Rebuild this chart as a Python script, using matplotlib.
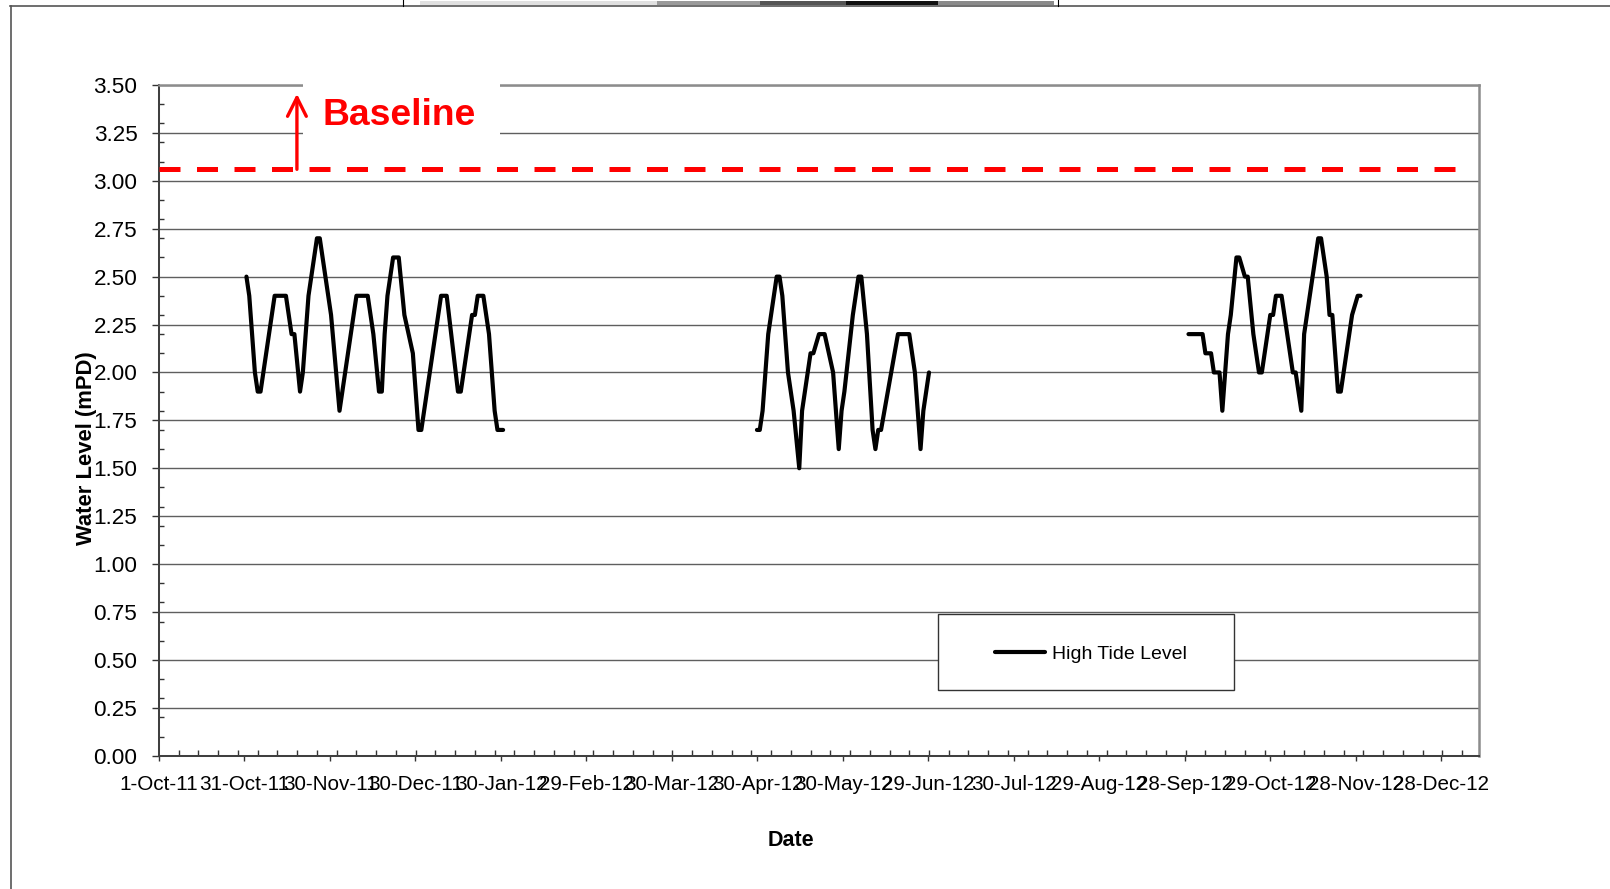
import numpy as np
import matplotlib
matplotlib.use("Agg")
import matplotlib.pyplot as plt
import matplotlib.dates as mdates
from matplotlib.patches import Rectangle
from matplotlib.lines import Line2D

plt.rcParams['font.family'] = ['Liberation Sans', 'DejaVu Sans']

# ---- axis set-up -------------------------------------------------------
axis_start = np.datetime64('2011-10-01')
axis_span_days = 468
major_step_days = 30.31
minor_step_days = 7
x_tick_labels = ['1-Oct-11', '31-Oct-11', '30-Nov-11', '30-Dec-11', '30-Jan-12',
                 '29-Feb-12', '30-Mar-12', '30-Apr-12', '30-May-12', '29-Jun-12',
                 '30-Jul-12', '29-Aug-12', '28-Sep-12', '29-Oct-12', '28-Nov-12',
                 '28-Dec-12']
y_ticks = [0.00, 0.25, 0.50, 0.75, 1.00, 1.25, 1.50, 1.75, 2.00, 2.25, 2.50,
           2.75, 3.00, 3.25, 3.50]

# ---- baseline ----------------------------------------------------------
baseline_level = 3.06
baseline_end = np.datetime64('2013-01-03')

# ---- high tide level, three monitoring periods -------------------------
period1_dates = ['2011-11-01', '2011-11-02', '2011-11-04', '2011-11-05', '2011-11-06',
                 '2011-11-11', '2011-11-15', '2011-11-17', '2011-11-18', '2011-11-20',
                 '2011-11-21', '2011-11-23', '2011-11-26', '2011-11-27', '2011-12-01',
                 '2011-12-04', '2011-12-10', '2011-12-14', '2011-12-16', '2011-12-18',
                 '2011-12-19', '2011-12-20', '2011-12-21', '2011-12-23', '2011-12-25',
                 '2011-12-27', '2011-12-30', '2012-01-01', '2012-01-02', '2012-01-09',
                 '2012-01-11', '2012-01-15', '2012-01-16', '2012-01-20', '2012-01-21',
                 '2012-01-22', '2012-01-24', '2012-01-26', '2012-01-28', '2012-01-29',
                 '2012-01-31']
period1_levels = [2.5, 2.4, 2.0, 1.9, 1.9,
                  2.4, 2.4, 2.2, 2.2, 1.9,
                  2.0, 2.4, 2.7, 2.7, 2.3,
                  1.8, 2.4, 2.4, 2.2, 1.9,
                  1.9, 2.2, 2.4, 2.6, 2.6,
                  2.3, 2.1, 1.7, 1.7, 2.4,
                  2.4, 1.9, 1.9, 2.3, 2.3,
                  2.4, 2.4, 2.2, 1.8, 1.7,
                  1.7]

period2_dates = ['2012-04-30', '2012-05-01', '2012-05-02', '2012-05-04', '2012-05-07',
                 '2012-05-08', '2012-05-09', '2012-05-11', '2012-05-13', '2012-05-15',
                 '2012-05-16', '2012-05-19', '2012-05-20', '2012-05-22', '2012-05-24',
                 '2012-05-27', '2012-05-29', '2012-05-30', '2012-05-31', '2012-06-03',
                 '2012-06-05', '2012-06-06', '2012-06-08', '2012-06-10', '2012-06-11',
                 '2012-06-12', '2012-06-13', '2012-06-19', '2012-06-23', '2012-06-25',
                 '2012-06-27', '2012-06-28', '2012-06-30']
period2_levels = [1.7, 1.7, 1.8, 2.2, 2.5,
                  2.5, 2.4, 2.0, 1.8, 1.5,
                  1.8, 2.1, 2.1, 2.2, 2.2,
                  2.0, 1.6, 1.8, 1.9, 2.3,
                  2.5, 2.5, 2.2, 1.7, 1.6,
                  1.7, 1.7, 2.2, 2.2, 2.0,
                  1.6, 1.8, 2.0]

period3_dates = ['2012-09-30', '2012-10-05', '2012-10-06', '2012-10-08', '2012-10-09',
                 '2012-10-11', '2012-10-12', '2012-10-14', '2012-10-15', '2012-10-17',
                 '2012-10-18', '2012-10-20', '2012-10-21', '2012-10-23', '2012-10-25',
                 '2012-10-26', '2012-10-29', '2012-10-30', '2012-10-31', '2012-11-02',
                 '2012-11-04', '2012-11-06', '2012-11-07', '2012-11-09', '2012-11-10',
                 '2012-11-11', '2012-11-13', '2012-11-15', '2012-11-16', '2012-11-18',
                 '2012-11-19', '2012-11-20', '2012-11-22', '2012-11-23', '2012-11-27',
                 '2012-11-29', '2012-11-30']
period3_levels = [2.2, 2.2, 2.1, 2.1, 2.0,
                  2.0, 1.8, 2.2, 2.3, 2.6,
                  2.6, 2.5, 2.5, 2.2, 2.0,
                  2.0, 2.3, 2.3, 2.4, 2.4,
                  2.2, 2.0, 2.0, 1.8, 2.2,
                  2.3, 2.5, 2.7, 2.7, 2.5,
                  2.3, 2.3, 1.9, 1.9, 2.3,
                  2.4, 2.4]

# ---- figure -------------------------------------------------------------
W, H = 1610, 889
fig = plt.figure(figsize=(W / 100, H / 100), dpi=100)
fig.patch.set_facecolor('white')


def fx(x):
    return x / W


def fy(y):
    return 1 - y / H


ax = fig.add_axes([fx(159), fy(755.7), (1479 - 159) / W, (755.7 - 85) / H])

x0 = mdates.date2num(axis_start)
ax.set_xlim(x0, x0 + axis_span_days)
ax.set_ylim(0, 3.5)

# tide series
tide_style = dict(color='black', lw=3.0, solid_capstyle='round',
                  solid_joinstyle='round', zorder=3)
ax.plot(np.array(period1_dates, dtype='datetime64[D]'), period1_levels,
        label='High Tide Level', **tide_style)
ax.plot(np.array(period2_dates, dtype='datetime64[D]'), period2_levels, **tide_style)
ax.plot(np.array(period3_dates, dtype='datetime64[D]'), period3_levels, **tide_style)

# baseline
ax.plot([axis_start, baseline_end], [baseline_level, baseline_level],
        color='#ff0000', lw=3.6, dashes=(4.2, 3.3), dash_capstyle='butt', zorder=3)

# x axis ticks
major_pos = [x0 + i * major_step_days for i in range(len(x_tick_labels))]
ax.set_xticks(major_pos)
ax.set_xticklabels(x_tick_labels)
ax.set_xticks(np.arange(x0, x0 + axis_span_days, minor_step_days), minor=True)

# y axis ticks
ax.set_yticks(y_ticks)
ax.set_yticklabels([f'{v:.2f}' for v in y_ticks])
ax.set_yticks(np.arange(0, 3.5, 0.1), minor=True)

ax.tick_params(axis='x', which='major', direction='out', length=3.6, width=1.0,
               color='#333333', labelsize=14.9, pad=10)
ax.tick_params(axis='x', which='minor', direction='in', length=4.2, width=1.0,
               color='#333333')
ax.tick_params(axis='y', which='major', direction='out', length=5.0, width=1.0,
               color='#333333', labelsize=16.2, pad=10.5)
ax.tick_params(axis='y', which='minor', direction='in', length=3.6, width=1.0,
               color='#333333')

ax.yaxis.grid(True, which='major', color='#5f5f5f', lw=1.0)
ax.xaxis.grid(False)
ax.set_axisbelow(True)

for side in ('left', 'bottom'):
    ax.spines[side].set_color('#404040')
    ax.spines[side].set_linewidth(1.45)
for side in ('top', 'right'):
    ax.spines[side].set_color('#8c8c8c')
    ax.spines[side].set_linewidth(1.8)

ax.set_xlabel('Date', fontsize=15.5, fontweight='bold')
ax.xaxis.set_label_coords(0.4785, -0.1257)
ax.xaxis.label.set_va('center')
ax.set_ylabel('Water Level (mPD)', fontsize=15.8, fontweight='bold')
ax.yaxis.set_label_coords(-0.0553, 0.458)
ax.yaxis.label.set_va('center')

# baseline annotation: white label box, arrow and text
ax.add_patch(Rectangle((x0 + 51.0, 3.161), 69.8, 0.42, facecolor='white',
                       edgecolor='none', zorder=3.5, clip_on=False))
ax.annotate('', xy=(x0 + 48.9, 3.454), xytext=(x0 + 48.9, baseline_level),
            arrowprops=dict(arrowstyle='->,head_length=0.9,head_width=0.45',
                            color='#ff0000', lw=2.4, shrinkA=0, shrinkB=0,
                            mutation_scale=15),
            zorder=4, annotation_clip=False)
ax.text(x0 + 58.0, 3.292, 'Baseline', color='#ff0000', fontsize=26.8,
        fontweight='bold', ha='left', va='baseline', zorder=4)

# legend box
ax.add_patch(Rectangle((fx(937.5), fy(690)), (1234.3 - 937.5) / W, (690 - 614) / H,
                       transform=fig.transFigure, facecolor='white',
                       edgecolor='#333333', lw=1.0, zorder=4.5, clip_on=False))
leg = ax.legend(loc='center left', bbox_to_anchor=(fx(995), fy(654)),
                bbox_transform=fig.transFigure, frameon=False, fontsize=14,
                handlelength=2.55, handletextpad=0.36, borderpad=0, borderaxespad=0)
leg.set_zorder(5)

# page frame
frame_kw = dict(color='#555555', lw=1.2, transform=fig.transFigure)
fig.add_artist(Line2D([fx(10.5), fx(10.5)], [fy(6), fy(889)], **frame_kw))
fig.add_artist(Line2D([fx(10), fx(1610)], [fy(6), fy(6)], **frame_kw))
# clipped header object at the top edge
fig.add_artist(Line2D([fx(403), fx(403)], [fy(0), fy(6)], color='black', lw=0.8,
                      transform=fig.transFigure))
fig.add_artist(Line2D([fx(1058), fx(1058)], [fy(0), fy(6)], color='black', lw=0.8,
                      transform=fig.transFigure))
for xa, xb, col in [(420, 657, '#e0e0e0'), (657, 760, '#9a9a9a'),
                    (760, 846, '#555555'), (846, 938, '#111111'),
                    (938, 1054, '#8a8a8a')]:
    fig.add_artist(Rectangle((fx(xa), fy(4.5)), (xb - xa) / W, 3.0 / H,
                             facecolor=col, edgecolor='none',
                             transform=fig.transFigure))

fig.savefig('out.png', dpi=100)
